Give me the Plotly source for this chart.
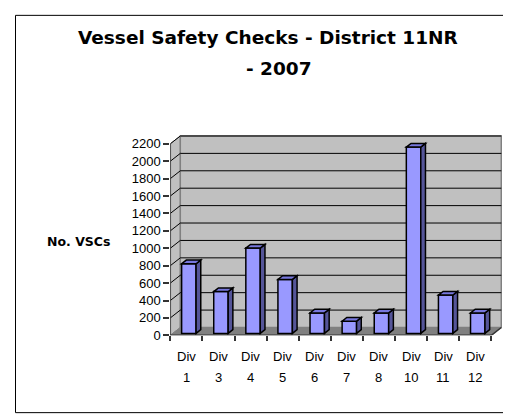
import plotly.graph_objects as go

# ---- data ----
categories = ["1", "3", "4", "5", "6", "7", "8", "10", "11", "12"]
vsc_counts = [800, 480, 980, 620, 235, 140, 235, 2140, 440, 235]
y_ticks = list(range(0, 2201, 200))
title_lines = ["Vessel Safety Checks - District 11NR", "- 2007"]
y_title = "No. VSCs"
cat_prefix = "Div"

W, H = 511, 420
# pixel geometry of the plot
X0_PX = 162.3      # x = -0.5
CAT_PX = 32.1      # px per category
Y0_PX = 333.7      # y = 0
K = 0.08875        # px per unit value
DXP, DYP = 10.0, 8.0   # depth offset in px
TOP_PX = 126.0
RIGHT_PX = 494.0

n = len(categories)
xr = [-0.5, -0.5 + (RIGHT_PX - X0_PX) / CAT_PX]
yr = [0, (Y0_PX - TOP_PX) / K]
DX = DXP / CAT_PX
DY = DYP / K
YMAX = y_ticks[-1]

def px(x):
    return x / W

def py(y):
    return 1 - y / H

shapes = []
WALL = "#C0C0C0"
WALLEDGE = "#808080"
# side wall
shapes.append(dict(type="path", xref="x", yref="y",
                   path=f"M {-0.5},{0} L {-0.5+DX},{DY} L {-0.5+DX},{YMAX+DY} L {-0.5},{YMAX} Z",
                   fillcolor=WALL, line=dict(color=WALLEDGE, width=1), layer="below"))
# back wall
shapes.append(dict(type="rect", xref="x", yref="y", x0=-0.5+DX, x1=n-0.5+DX, y0=DY, y1=YMAX+DY,
                   fillcolor=WALL, line=dict(color=WALLEDGE, width=1.5), layer="below"))
# gridlines
for v in y_ticks[1:]:
    shapes.append(dict(type="line", xref="x", yref="y", x0=-0.5+DX, x1=n-0.5+DX, y0=v+DY, y1=v+DY,
                       line=dict(color="black", width=1), layer="below"))
    shapes.append(dict(type="line", xref="x", yref="y", x0=-0.5, x1=-0.5+DX, y0=v, y1=v+DY,
                       line=dict(color="black", width=1), layer="below"))
# floor
shapes.append(dict(type="path", xref="x", yref="y",
                   path=f"M {-0.5},{0} L {n-0.5},{0} L {n-0.5+DX},{DY} L {-0.5+DX},{DY} Z",
                   fillcolor="#808080", line=dict(color="#808080", width=1), layer="below"))
# axes lines
shapes.append(dict(type="line", xref="x", yref="y", x0=-0.5, x1=-0.5, y0=0, y1=YMAX,
                   line=dict(color="#333333", width=1.5)))
shapes.append(dict(type="line", xref="x", yref="y", x0=-0.5, x1=n-0.5, y0=0, y1=0,
                   line=dict(color="#333333", width=1.5)))
shapes.append(dict(type="line", xref="x", yref="y", x0=n-0.5, x1=n-0.5+DX, y0=0, y1=DY,
                   line=dict(color="#333333", width=1.5)))

# bars (3-D look)
F1, F2 = 0.25, 0.72
BW = 0.45
bx = [i + F1 * DX for i in range(n)]
base = F1 * DY
dd = F2 - F1
for i, v in enumerate(vsc_counts):
    xl = bx[i] - BW / 2
    xrr = bx[i] + BW / 2
    top = base + v
    shapes.append(dict(type="path", xref="x", yref="y",
                       path=f"M {xrr},{base} L {xrr+dd*DX},{base+dd*DY} L {xrr+dd*DX},{top+dd*DY} L {xrr},{top} Z",
                       fillcolor="#555599", line=dict(color="black", width=1.5)))
    shapes.append(dict(type="path", xref="x", yref="y",
                       path=f"M {xl},{top} L {xrr},{top} L {xrr+dd*DX},{top+dd*DY} L {xl+dd*DX},{top+dd*DY} Z",
                       fillcolor="#7777DD", line=dict(color="black", width=1.5)))

fig = go.Figure()
fig.add_trace(go.Bar(x=bx, y=vsc_counts, base=base, width=BW,
                     marker=dict(color="#9999FF", line=dict(color="black", width=1.5)),
                     hoverinfo="skip"))

annotations = []
FONT = "Liberation Sans, Arial, sans-serif"
for i, c in enumerate(categories):
    annotations.append(dict(x=i, y=py(355), xref="x", yref="paper", text=cat_prefix, showarrow=False,
                            font=dict(family=FONT, size=13, color="black"), xanchor="center", yanchor="middle"))
    annotations.append(dict(x=i, y=py(377), xref="x", yref="paper", text=c, showarrow=False,
                            font=dict(family=FONT, size=13, color="black"), xanchor="center", yanchor="middle"))
annotations.append(dict(x=px(260), y=py(30), xref="paper", yref="paper", text=f"<b>{title_lines[0]}</b>",
                        showarrow=False, font=dict(family="DejaVu Sans, sans-serif", size=18.5, color="black"),
                        xanchor="center", yanchor="middle"))
annotations.append(dict(x=px(271), y=py(62), xref="paper", yref="paper", text=f"<b>{title_lines[1]}</b>",
                        showarrow=False, font=dict(family="DejaVu Sans, sans-serif", size=18.5, color="black"),
                        xanchor="center", yanchor="middle"))
annotations.append(dict(x=px(70), y=py(238), xref="paper", yref="paper", text=f"<b>{y_title}</b>",
                        showarrow=False, font=dict(family="DejaVu Sans, sans-serif", size=12.5, color="black"),
                        xanchor="center", yanchor="middle"))

# chart border
shapes.append(dict(type="rect", xref="paper", yref="paper", x0=px(7.5), x1=px(503.5), y0=py(412.5), y1=py(7.5),
                   line=dict(color="black", width=1), fillcolor="rgba(0,0,0,0)", layer="below"))

fig.update_layout(
    width=W, height=H, autosize=False,
    margin=dict(l=0, r=0, t=0, b=0),
    paper_bgcolor="white", plot_bgcolor="rgba(0,0,0,0)",
    showlegend=False,
    shapes=shapes, annotations=annotations,
    xaxis=dict(domain=[px(X0_PX), px(RIGHT_PX)], range=xr, showgrid=False, zeroline=False,
               showline=False, tickmode="array", tickvals=[i - 0.5 for i in range(n + 1)],
               ticks="outside", ticklen=5, tickcolor="#333333", tickwidth=1.5, showticklabels=False,
               fixedrange=True),
    yaxis=dict(domain=[py(Y0_PX), py(TOP_PX)], range=yr, showgrid=False, zeroline=False,
               showline=False, tickmode="array", tickvals=y_ticks, ticktext=[str(v) for v in y_ticks],
               ticks="outside", ticklen=6, tickcolor="#333333", tickwidth=1.5,
               tickfont=dict(family=FONT, size=13, color="black"), fixedrange=True),
)

fig.write_html("out.html")
